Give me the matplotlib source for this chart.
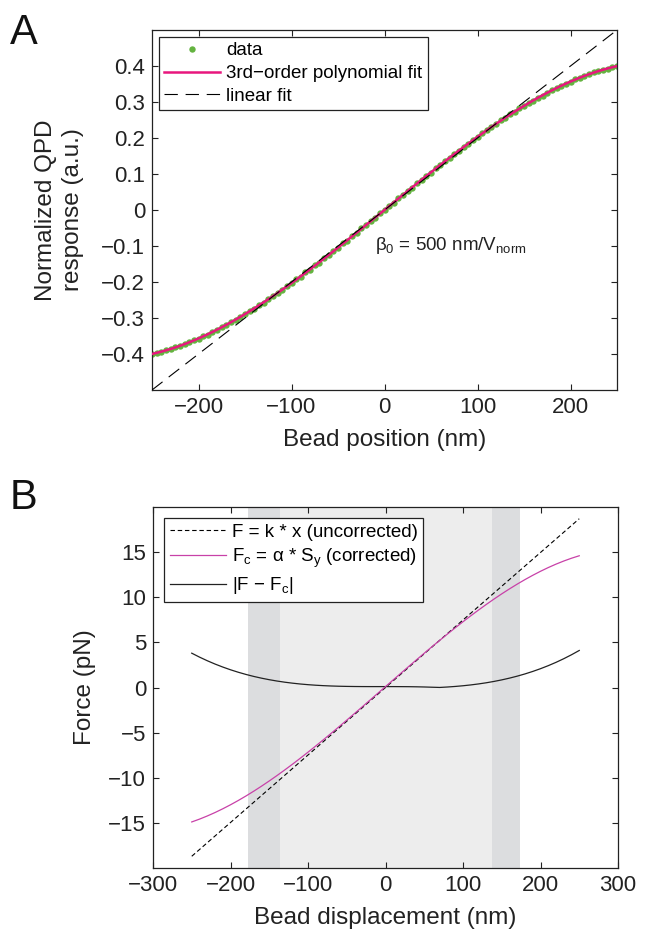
import numpy as np
import matplotlib
matplotlib.use("Agg")
import matplotlib.pyplot as plt

plt.rcParams['font.family'] = ['Liberation Sans', 'DejaVu Sans']
plt.rcParams['mathtext.fontset'] = 'custom'
plt.rcParams['mathtext.rm'] = 'Liberation Sans'
plt.rcParams['mathtext.it'] = 'Liberation Sans'
plt.rcParams['mathtext.default'] = 'regular'

# ---------------- Panel A data ----------------
bead_position = np.arange(-250, 251, 5)
qpd_response = [
    -0.400, -0.396, -0.394, -0.389, -0.387, -0.381, -0.378, -0.372, -0.368, -0.361,
    -0.358, -0.350, -0.346, -0.338, -0.333, -0.325, -0.320, -0.311, -0.305, -0.296,
    -0.290, -0.280, -0.274, -0.264, -0.257, -0.247, -0.240, -0.230, -0.222, -0.211,
    -0.204, -0.192, -0.185, -0.173, -0.166, -0.154, -0.146, -0.134, -0.126, -0.114,
    -0.106, -0.093, -0.085, -0.072, -0.064, -0.051, -0.043, -0.030, -0.022, -0.009,
    0.000,
    0.012, 0.020, 0.033, 0.041, 0.054, 0.062, 0.075, 0.083, 0.095, 0.103,
    0.116, 0.124, 0.136, 0.144, 0.156, 0.164, 0.176, 0.183, 0.195, 0.202,
    0.213, 0.221, 0.231, 0.239, 0.249, 0.256, 0.266, 0.273, 0.282, 0.289,
    0.298, 0.304, 0.312, 0.318, 0.326, 0.332, 0.339, 0.345, 0.351, 0.356,
    0.363, 0.367, 0.373, 0.377, 0.382, 0.386, 0.390, 0.393, 0.397, 0.399,
]
beta0 = 500.0  # nm / V_norm
linear_x = [-250, 250]

# ---------------- Panel B data ----------------
bead_displacement = np.arange(-250, 251, 10)
k_trap = 0.0748  # pN/nm
force_corrected = [
    -14.897, -14.585, -14.237, -13.856, -13.441, -12.996, -12.521, -12.018, -11.489, -10.934,
    -10.356, -9.756, -9.136, -8.496, -7.840, -7.167, -6.480, -5.780, -5.069, -4.348,
    -3.618, -2.882, -2.141, -1.396, -0.648,
    0.100,
    0.847, 1.592, 2.334, 3.069, 3.798, 4.519, 5.230, 5.929, 6.615, 7.287,
    7.943, 8.581, 9.201, 9.799, 10.376, 10.929, 11.457, 11.959, 12.432, 12.876,
    13.289, 13.669, 14.014, 14.324, 14.597,
]
dark_bands = [(-178, -136), (137, 173)]
light_band = (-136, 137)

fig = plt.figure(figsize=(6.49, 9.35), dpi=100)

tick_fs = 16
label_fs = 17.5
leg_fs = 13.5
txt_col = '#222222'

def style_axes(ax):
    ax.tick_params(direction='in', which='both', top=True, right=True,
                   length=4, width=0.8, labelsize=tick_fs, colors=txt_col,
                   labelcolor=txt_col, pad=5)
    for s in ax.spines.values():
        s.set_linewidth(0.9)
        s.set_color(txt_col)

# ---- Panel A ----
axA = fig.add_axes([152/649, 1-390/935, 465/649, 360/935])
x = np.asarray(bead_position, float)
y = np.asarray(qpd_response, float)
coef = np.polyfit(x, y, 3)
axA.plot(x, y, 'o', color='#64b340', markersize=4.6, markeredgewidth=0, label='data', zorder=2)
axA.plot(x, np.polyval(coef, x), '-', color='#e8177d', lw=1.8, label='3rd\u2212order polynomial fit', zorder=3)
lx = np.asarray(linear_x, float)
axA.plot(lx, lx / beta0, color='black', lw=0.8, dashes=(12, 7), label='linear fit', zorder=4)
axA.set_xlim(-250, 250)
axA.set_ylim(-0.5, 0.5)
axA.set_xticks([-200, -100, 0, 100, 200])
axA.set_yticks(np.round(np.arange(-0.4, 0.41, 0.1), 1))
axA.set_yticklabels(['\u22120.4', '\u22120.3', '\u22120.2', '\u22120.1', '0', '0.1', '0.2', '0.3', '0.4'])
axA.set_xticklabels(['\u2212200', '\u2212100', '0', '100', '200'])
axA.set_xlabel('Bead position (nm)', fontsize=label_fs, color=txt_col, labelpad=8)
axA.set_ylabel('Normalized QPD\nresponse (a.u.)', fontsize=label_fs, color=txt_col, labelpad=12,
               linespacing=1.3)
axA.text(-10, -0.1, r'$\beta_0$ = 500 nm/V$_{norm}$', fontsize=13.5, color=txt_col, va='center')
style_axes(axA)
legA = axA.legend(loc='upper left', fontsize=leg_fs, frameon=True, fancybox=False,
                  edgecolor=txt_col, handlelength=3.0, borderpad=0.3, labelspacing=0.3,
                  handletextpad=0.3, borderaxespad=0.35, framealpha=1)
legA.get_frame().set_linewidth(0.9)

# ---- Panel B ----
axB = fig.add_axes([153/649, 1-868/935, 465/649, 361/935])
for a, b in dark_bands:
    axB.axvspan(a, b, color='#dcdddf', lw=0, zorder=0)
axB.axvspan(light_band[0], light_band[1], color='#ededed', lw=0, zorder=0)
xd = np.asarray(bead_displacement, float)
fc = np.asarray(force_corrected, float)
F = k_trap * xd
axB.plot(xd, F, color='black', lw=0.8, dashes=(4, 2.5), label='F = k * x (uncorrected)', zorder=3)
axB.plot(xd, fc, color='#c841a8', lw=0.9, label=r'F$_c$ = α * S$_y$ (corrected)', zorder=4)
axB.plot(xd, np.abs(F - fc), color='#222222', lw=0.9, label=r'|F − F$_c$|', zorder=2)
axB.set_xlim(-300, 300)
axB.set_ylim(-20, 20)
axB.set_xticks([-300, -200, -100, 0, 100, 200, 300])
axB.set_xticklabels(['\u2212300', '\u2212200', '\u2212100', '0', '100', '200', '300'])
axB.set_yticks([-15, -10, -5, 0, 5, 10, 15])
axB.set_yticklabels(['\u221215', '\u221210', '\u22125', '0', '5', '10', '15'])
axB.set_xlabel('Bead displacement (nm)', fontsize=label_fs, color=txt_col, labelpad=8)
axB.set_ylabel('Force (pN)', fontsize=label_fs, color=txt_col, labelpad=9)
style_axes(axB)
legB = axB.legend(loc='upper left', fontsize=leg_fs, frameon=True, fancybox=False,
                  edgecolor=txt_col, handlelength=3.0, borderpad=0.3, labelspacing=0.3,
                  handletextpad=0.3, borderaxespad=0.6, framealpha=1)
legB.get_frame().set_linewidth(0.9)

fig.text(10/649, 1-13/935, 'A', fontsize=30, va='top', ha='left', color='#111111')
fig.text(10/649, 1-478/935, 'B', fontsize=30, va='top', ha='left', color='#111111')

fig.savefig('out.png', dpi=100)
